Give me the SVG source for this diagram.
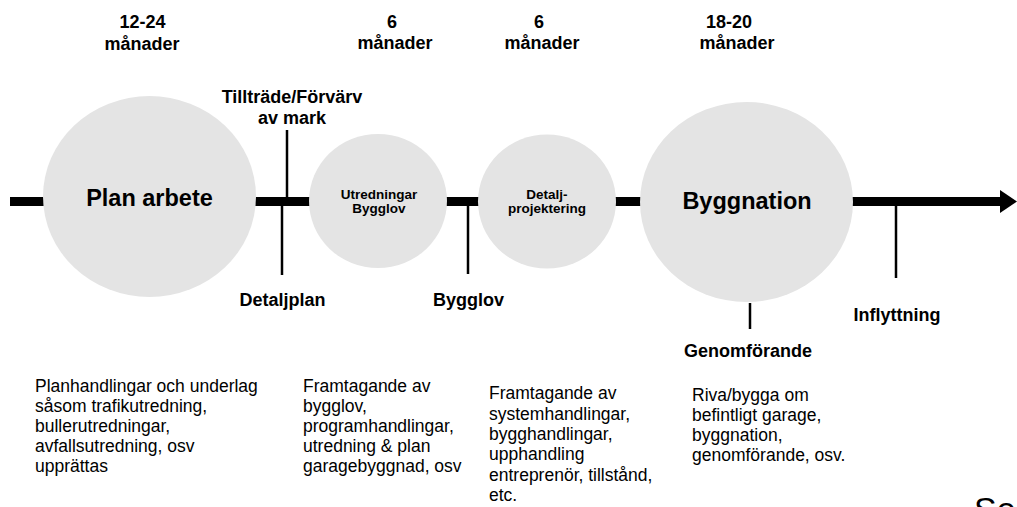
<svg xmlns="http://www.w3.org/2000/svg" width="1017" height="507" viewBox="0 0 1017 507">
<style>
text{font-family:"Liberation Sans",Arial,Helvetica,sans-serif;fill:#000}
.b{font-weight:bold}
.c{text-anchor:middle}
.t18{font-size:18px}
.big{font-size:23.5px;font-weight:bold;text-anchor:middle}
.sm{font-size:13.5px;font-weight:bold;text-anchor:middle}
.body{font-size:17.5px}
.node{fill:#e4e4e4}
.bar{stroke:#000;stroke-width:9}
.tick{stroke:#000;stroke-width:2.5}
</style>
<rect width="1017" height="507" fill="#fff"/>
<g id="connectors">
<line class="bar" x1="10" y1="201.5" x2="44" y2="201.5"/>
<line class="bar" x1="255" y1="201.5" x2="310" y2="201.5"/>
<line class="bar" x1="446" y1="201.5" x2="479" y2="201.5"/>
<line class="bar" x1="615" y1="201.5" x2="641" y2="201.5"/>
<line class="bar" x1="852" y1="201.5" x2="1001" y2="201.5"/>
<polygon points="1000,190 1017,201.5 1000,213" fill="#000"/>
<line class="tick" x1="287" y1="130" x2="287" y2="202"/>
<line class="tick" x1="282" y1="201" x2="282" y2="275"/>
<line class="tick" x1="468" y1="201" x2="468" y2="274"/>
<line class="tick" x1="896" y1="201" x2="896" y2="278"/>
<line class="tick" x1="750" y1="303" x2="750" y2="329"/>
</g>
<g id="plan-arbete">
<ellipse class="node" cx="149.5" cy="196.5" rx="106.5" ry="100.5"/>
<text class="big" x="149.5" y="206">Plan arbete</text>
</g>
<g id="utredningar-bygglov">
<ellipse class="node" cx="378" cy="201" rx="69" ry="67"/>
<text class="sm" x="379" y="199">Utredningar</text>
<text class="sm" x="379" y="213">Bygglov</text>
</g>
<g id="detaljprojektering">
<ellipse class="node" cx="547" cy="201.5" rx="69" ry="67"/>
<text class="sm" x="547" y="199">Detalj-</text>
<text class="sm" x="547" y="213">projektering</text>
</g>
<g id="byggnation">
<ellipse class="node" cx="746.5" cy="202" rx="106.5" ry="100"/>
<text class="big" x="747" y="209">Byggnation</text>
</g>
<g id="durations">
<text class="b c t18" x="142.5" y="28">12-24</text>
<text class="b c t18" x="142" y="50">månader</text>
<text class="b c t18" x="392" y="28">6</text>
<text class="b c t18" x="395" y="49">månader</text>
<text class="b c t18" x="539" y="28">6</text>
<text class="b c t18" x="542" y="49">månader</text>
<text class="b c t18" x="729" y="28">18-20</text>
<text class="b c t18" x="737" y="49">månader</text>
</g>
<g id="milestones">
<text class="b c t18" x="292" y="103">Tillträde/Förvärv</text>
<text class="b c t18" x="292" y="124">av mark</text>
<text class="b c t18" x="282.5" y="306">Detaljplan</text>
<text class="b c t18" x="468.5" y="306">Bygglov</text>
<text class="b c t18" x="897" y="321">Inflyttning</text>
<text class="b c t18" x="748" y="357">Genomförande</text>
</g>
<g id="descriptions">
<text class="body" x="35" y="392">Planhandlingar och underlag</text>
<text class="body" x="35" y="412">såsom trafikutredning,</text>
<text class="body" x="35" y="432">bullerutredningar,</text>
<text class="body" x="35" y="452">avfallsutredning, osv</text>
<text class="body" x="35" y="472">upprättas</text>
<text class="body" x="303" y="392">Framtagande av</text>
<text class="body" x="303" y="412">bygglov,</text>
<text class="body" x="303" y="432">programhandlingar,</text>
<text class="body" x="303" y="452">utredning &amp; plan</text>
<text class="body" x="303" y="472">garagebyggnad, osv</text>
<text class="body" x="489" y="399">Framtagande av</text>
<text class="body" x="489" y="419.5">systemhandlingar,</text>
<text class="body" x="489" y="440">bygghandlingar,</text>
<text class="body" x="489" y="460">upphandling</text>
<text class="body" x="489" y="480.5">entreprenör, tillstånd,</text>
<text class="body" x="489" y="501">etc.</text>
<text class="body" x="692" y="401">Riva/bygga om</text>
<text class="body" x="692" y="421">befintligt garage,</text>
<text class="body" x="692" y="441">byggnation,</text>
<text class="body" x="692" y="461">genomförande, osv.</text>
</g>
<text x="974" y="521" style="font-size:34px">Se</text>
</svg>
